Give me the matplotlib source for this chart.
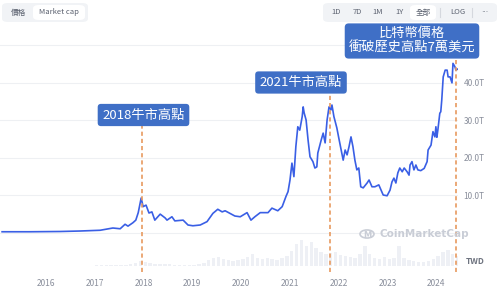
import matplotlib
matplotlib.use("Agg")
import matplotlib.pyplot as plt
from matplotlib.patches import FancyBboxPatch, Circle
import numpy as np

plt.rcParams['font.family'] = ['Noto Sans CJK TC', 'DejaVu Sans']

# ── Data (TWD market cap, trillions) ─────────────────────────────────────────
dates = [2015.10, 2015.67, 2016.29, 2016.70, 2017.11, 2017.37, 2017.52, 2017.62,
         2017.68, 2017.78, 2017.84, 2017.89, 2017.95, 2017.99, 2018.05, 2018.11,
         2018.17, 2018.23, 2018.34, 2018.44, 2018.48, 2018.58, 2018.64, 2018.81,
         2018.91, 2019.01, 2019.16, 2019.30, 2019.42, 2019.52, 2019.61, 2019.67,
         2019.77, 2019.87, 2019.98, 2020.12, 2020.20, 2020.28, 2020.39, 2020.55,
         2020.63, 2020.75, 2020.84, 2020.92, 2020.96, 2021.00, 2021.04, 2021.08,
         2021.12, 2021.16, 2021.20, 2021.25, 2021.27, 2021.29, 2021.33, 2021.37,
         2021.41, 2021.47, 2021.51, 2021.55, 2021.57, 2021.64, 2021.68, 2021.72,
         2021.76, 2021.80, 2021.84, 2021.86, 2021.90, 2021.96, 2022.00, 2022.05,
         2022.09, 2022.13, 2022.17, 2022.21, 2022.25, 2022.29, 2022.33, 2022.37,
         2022.41, 2022.45, 2022.50, 2022.58, 2022.62, 2022.68, 2022.74, 2022.82,
         2022.91, 2022.99, 2023.05, 2023.09, 2023.13, 2023.17, 2023.21, 2023.25,
         2023.30, 2023.34, 2023.40, 2023.44, 2023.46, 2023.50, 2023.54, 2023.58,
         2023.62, 2023.68, 2023.75, 2023.81, 2023.83, 2023.89, 2023.93, 2023.97,
         2023.99, 2024.01, 2024.03, 2024.07, 2024.09, 2024.11, 2024.14, 2024.18,
         2024.22, 2024.24, 2024.28, 2024.30, 2024.32, 2024.34, 2024.38, 2024.40,
         2024.44]
mcap = [0.2, 0.2, 0.27, 0.4, 0.6, 1.2, 1.0, 2.2,
        1.7, 2.6, 3.3, 5.3, 9.2, 6.9, 7.3, 5.2,
        5.5, 3.3, 4.9, 3.9, 3.3, 4.2, 3.1, 3.3,
        2.0, 1.8, 2.0, 2.9, 5.1, 6.2, 5.5, 5.8,
        5.1, 4.4, 4.2, 5.3, 3.3, 4.2, 5.3, 5.3,
        6.5, 5.8, 6.9, 9.7, 10.9, 14.0, 18.5, 14.9,
        22.9, 28.2, 27.3, 30.9, 33.5, 31.9, 30.0, 24.7,
        20.2, 18.9, 17.2, 17.5, 21.2, 24.7, 26.5, 23.9,
        30.0, 33.5, 32.7, 34.0, 30.9, 27.9, 25.2, 22.0,
        19.3, 22.0, 20.7, 22.9, 25.5, 22.9, 19.3, 16.7,
        17.2, 12.2, 11.9, 13.2, 14.0, 12.2, 12.2, 12.7,
        10.0, 9.8, 11.3, 13.5, 14.5, 13.2, 15.9, 17.2,
        16.2, 17.2, 16.2, 15.3, 18.0, 18.9, 16.7, 18.0,
        16.7, 16.5, 17.1, 18.9, 22.0, 23.3, 26.9, 25.5,
        28.2, 25.4, 27.3, 31.8, 32.2, 35.3, 41.5, 43.3,
        43.3, 41.5, 41.5, 40.7, 39.9, 45.1, 44.2, 43.3,
        43.6]

# trading volume (relative), one value per 0.1 year from 2015.1
vol_start = 2015.1
volume = [0.3, 0.3, 0.3, 0.3, 0.3, 0.3, 0.3, 0.3, 0.3,
          0.4, 0.4, 0.4, 0.4, 0.4, 0.4, 0.4, 0.4, 0.4, 0.4,
          0.6, 0.6, 0.8, 0.8, 1, 1, 1.5, 2, 3, 5,
          4, 3, 2.5, 2, 2, 2, 1.5, 1.5, 1.5, 1.5,
          1.5, 2, 3, 6, 8, 9, 7, 6, 5, 6,
          7, 9, 12, 8, 7, 8, 7, 6, 8, 10,
          15, 22, 26, 20, 24, 18, 14, 12, 13, 14,
          11, 10, 9, 8, 12, 20, 12, 8, 7, 9,
          7, 8, 20, 8, 6, 5, 4, 4, 5, 7,
          10, 14, 16, 12, 10]

year_ticks = [2016, 2017, 2018, 2019, 2020, 2021, 2022, 2023, 2024]
value_ticks = [10, 20, 30, 40]

events = [2017.967, 2021.82, 2024.40]
event_tops = [28.4, 37.2, 46.5]

W, H = 500, 289
fig = plt.figure(figsize=(W / 100, H / 100), dpi=100)


def fx(px):
    return px / W


def fy(py):
    return 1 - py / H


# ── Main price axes ──────────────────────────────────────────────────────────
ax = fig.add_axes([0, fy(266), fx(458), fy(30) - fy(266)])
ax.set_xlim(2015.057, 2024.443)
ax.set_ylim(-8.93, 54.0)
for s in ax.spines.values():
    s.set_visible(False)

for g in [0] + value_ticks + [50]:
    ax.axhline(g, color="#eef0f3", lw=0.8, zorder=0)

ax.plot(dates, mcap, color="#3a5fe5", lw=1.2, zorder=3)

ax.set_xticks(year_ticks)
ax.set_xticklabels([str(y) for y in year_ticks])
ax.tick_params(axis="x", length=0, pad=9, labelsize=6, labelcolor="#8a8f9c")
ax.yaxis.tick_right()
ax.set_yticks(value_ticks)
ax.set_yticklabels([f"{v:.1f}T" for v in value_ticks])
ax.tick_params(axis="y", length=0, pad=4, labelsize=6, labelcolor="#8a8f9c")

# event lines
for ex, et in zip(events, event_tops):
    ax.vlines(ex, -10.5, et, colors="#e89a5f", linestyles=(0, (2.5, 1.8)),
              lw=1.2, zorder=4, clip_on=False)

# ── Volume axes ──────────────────────────────────────────────────────────────
axv = fig.add_axes([0, fy(266), fx(458), fy(236) - fy(266)])
axv.set_xlim(ax.get_xlim())
axv.set_ylim(0, 30)
vx = vol_start + 0.1 * np.arange(len(volume))
axv.bar(vx, volume, width=0.07, color="#eef0f5", align="edge", lw=0)
axv.axis("off")
axv.patch.set_alpha(0)
axv.set_zorder(0)
ax.set_zorder(1)
ax.patch.set_alpha(0)

fig.text(fx(466), fy(261), "TWD", fontsize=6, color="#6f7480",
         fontweight="bold", va="center")

# watermark
fig.patches.append(Circle((fx(367), fy(234)), 0.014, transform=fig.transFigure,
                          fill=False, ec="#c9cdd6", lw=1.2))
fig.text(fx(367), fy(235), "M", fontsize=6, color="#c9cdd6", va="center",
         ha="center", fontweight="bold", family="DejaVu Sans")
fig.text(fx(379), fy(234), "CoinMarketCap", fontsize=7.5, color="#c9cdd6",
         fontweight="bold", va="center", family="DejaVu Sans")

# ── Annotation boxes ─────────────────────────────────────────────────────────
box_kw = dict(boxstyle="round,pad=0.35,rounding_size=0.25", fc="#3f6fc6",
              ec="none")
fig.text(fx(143.5), fy(115), "2018牛市高點", color="white", fontsize=9.5,
         ha="center", va="center", bbox=box_kw, zorder=10)
fig.text(fx(301), fy(82.5), "2021牛市高點", color="white", fontsize=9.5,
         ha="center", va="center", bbox=box_kw, zorder=10)
fig.text(fx(412), fy(41), "比特幣價格\n衝破歷史高點7萬美元", color="white",
         fontsize=9.5, ha="center", va="center", linespacing=1.1,
         bbox=dict(boxstyle="round,pad=0.3,rounding_size=0.3", fc="#3f6fc6",
                   ec="none"), zorder=10)

# ── Top button bars ──────────────────────────────────────────────────────────
def rbox(x0, y0, x1, y1, fc, r=0.012):
    fig.patches.append(FancyBboxPatch((fx(x0), fy(y1)), fx(x1 - x0), fy(y0) - fy(y1),
                                      boxstyle=f"round,pad=0,rounding_size={r}",
                                      transform=fig.transFigure, fc=fc, ec="none"))

rbox(2, 3, 88, 22, "#f1f3f6")
rbox(33, 5, 85, 20, "white")
fig.text(fx(19), fy(12.5), "價格", fontsize=5.5, color="#5c6270",
         ha="center", va="center")
fig.text(fx(59), fy(12.5), "Market cap", fontsize=5.5, color="#5c6270",
         ha="center", va="center")

rbox(323, 3, 497, 22, "#f1f3f6")
rbox(410, 5, 436, 20, "white")
for lbl, px in [("1D", 336), ("7D", 357), ("1M", 378), ("1Y", 399),
                ("全部", 423), ("LOG", 458)]:
    fig.text(fx(px), fy(12.5), lbl, fontsize=5.5, color="#5c6270",
             ha="center", va="center")
fig.text(fx(485), fy(12.5), "···", fontsize=5.5, color="#5c6270",
         ha="center", va="center", family=["DejaVu Sans"])
for px in [440, 472]:
    fig.add_artist(plt.Line2D([fx(px), fx(px)], [fy(8), fy(17)],
                              transform=fig.transFigure, color="#d5d8de", lw=0.8))

fig.savefig("out.png", dpi=100)
